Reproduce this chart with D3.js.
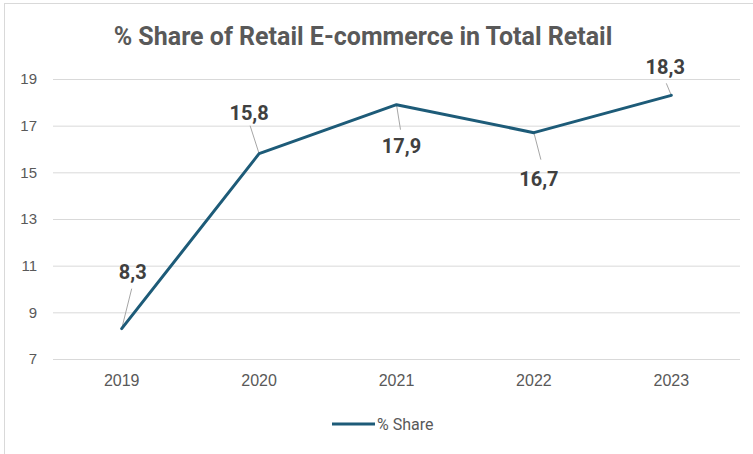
<!DOCTYPE html>
<html>
<head>
<meta charset="utf-8">
<script src="https://cdn.jsdelivr.net/npm/d3@7"></script>
<style>
  html, body { margin: 0; padding: 0; background: #fff; }
  svg { display: block; font-family: Roboto, "Open Sans", sans-serif; }
</style>
</head>
<body>
<svg id="chart" width="753" height="454"></svg>
<script>
// Share of retail e-commerce in total retail, by year
const years = ["2019", "2020", "2021", "2022", "2023"];
const shareValues = [8.3, 15.8, 17.9, 16.7, 18.3];
const yTicks = [7, 9, 11, 13, 15, 17, 19];
const seriesName = "% Share";
const titleText = "% Share of Retail E-commerce in Total Retail";

// Data-label placement relative to each point: [dx, dy of baseline, leader end dx, leader end dy]
const labelOffsets = [
  [11, -50, 10, -40],
  [-10, -34, -9, -28],
  [5, 48, 4, 25],
  [5, 53, 7, 27],
  [-6, -21, -5, -12]
];

const W = 753, H = 454;
const margin = { left: 53, right: 13, top: 79, bottom: 95 };
const svg = d3.select("#chart");

// chart frame (runs off the right and bottom edges)
svg.append("rect")
  .attr("x", 4.5).attr("y", 3.5)
  .attr("width", 800).attr("height", 500)
  .attr("fill", "#fff").attr("stroke", "#d9d9d9");

const x = d3.scaleBand().domain(years)
  .range([margin.left, W - margin.right]).paddingInner(0).paddingOuter(0);
const y = d3.scaleLinear().domain([7, 19])
  .range([H - margin.bottom, margin.top]);

// horizontal gridlines + y tick labels
const yAxis = d3.axisLeft(y).tickValues(yTicks)
  .tickSize(-(W - margin.right - margin.left)).tickPadding(16);
const gy = svg.append("g").attr("transform", `translate(${margin.left},0)`).call(yAxis);
gy.select(".domain").remove();
gy.selectAll(".tick line").attr("stroke", "#d9d9d9").attr("stroke-width", 1);
gy.selectAll(".tick text").attr("fill", "#595959").attr("font-size", 15);

// x axis labels
const xAxis = d3.axisBottom(x).tickSize(0).tickPadding(16);
const gx = svg.append("g").attr("transform", `translate(0,${H - margin.bottom})`).call(xAxis);
gx.select(".domain").remove();
gx.selectAll(".tick text").attr("fill", "#595959").attr("font-size", 16);

// title
svg.append("text")
  .attr("x", 363).attr("y", 45)
  .attr("text-anchor", "middle")
  .attr("font-size", 25).attr("font-weight", "bold")
  .attr("fill", "#595959")
  .text(titleText);

const pts = years.map((yr, i) => ({
  year: yr, value: shareValues[i],
  px: x(yr) + x.bandwidth() / 2, py: y(shareValues[i]), off: labelOffsets[i]
}));

// leader lines
svg.append("g").selectAll("line").data(pts).join("line")
  .attr("x1", d => d.px).attr("y1", d => d.py)
  .attr("x2", d => d.px + d.off[2]).attr("y2", d => d.py + d.off[3])
  .attr("stroke", "#a6a6a6").attr("stroke-width", 1);

// series line
const line = d3.line().x(d => d.px).y(d => d.py);
svg.append("path").datum(pts)
  .attr("d", line)
  .attr("fill", "none")
  .attr("stroke", "#1d5b78")
  .attr("stroke-width", 3)
  .attr("stroke-linejoin", "round")
  .attr("stroke-linecap", "round");

// data labels
svg.append("g").selectAll("text").data(pts).join("text")
  .attr("x", d => d.px + d.off[0]).attr("y", d => d.py + d.off[1])
  .attr("text-anchor", "middle")
  .attr("font-size", 20).attr("font-weight", "bold")
  .attr("fill", "#404040")
  .text(d => d3.format(".1f")(d.value).replace(".", ","));

// legend
const lg = svg.append("g").attr("transform", "translate(332,424)");
lg.append("line").attr("x1", 0).attr("x2", 43).attr("y1", 0).attr("y2", 0)
  .attr("stroke", "#1d5b78").attr("stroke-width", 3);
lg.append("text").attr("x", 45).attr("y", 6)
  .attr("font-size", 16).attr("fill", "#595959")
  .text(seriesName);
</script>
</body>
</html>
